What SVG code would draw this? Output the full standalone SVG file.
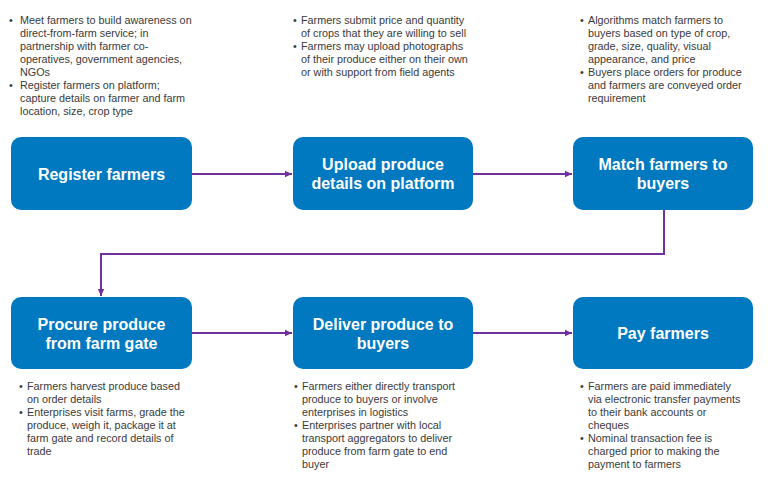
<svg xmlns="http://www.w3.org/2000/svg" width="778" height="489" viewBox="0 0 778 489">
<style>
.box{fill:#0079C1;}
.lbl{font-family:"Liberation Sans",Arial,sans-serif;font-weight:bold;font-size:16px;fill:#ffffff;text-anchor:middle;}
.note{font-family:"Liberation Sans",Arial,sans-serif;font-size:10.8px;fill:#3a3a3a;}
.con{fill:none;stroke:#7030A0;stroke-width:2;}
</style>
<defs>
<marker id="ah" markerUnits="userSpaceOnUse" markerWidth="8" markerHeight="8" refX="7" refY="4" orient="auto">
<path d="M0,0.8 L7,4 L0,7.2 Z" fill="#7030A0"/>
</marker>
</defs>
<rect width="778" height="489" fill="#ffffff"/>

<g id="connectors">
<line class="con" x1="192" y1="174" x2="292" y2="174" marker-end="url(#ah)"/>
<line class="con" x1="473" y1="174" x2="572" y2="174" marker-end="url(#ah)"/>
<polyline class="con" points="664,210 664,254 101,254 101,296" marker-end="url(#ah)"/>
<line class="con" x1="192" y1="333" x2="292" y2="333" marker-end="url(#ah)"/>
<line class="con" x1="473" y1="333" x2="572" y2="333" marker-end="url(#ah)"/>
</g>

<g id="register-farmers">
<rect class="box" x="11" y="137" width="181" height="73" rx="10"/>
<text class="lbl" x="101.5" y="180">Register farmers</text>
</g>
<g id="upload-produce">
<rect class="box" x="293" y="137" width="180" height="73" rx="10"/>
<text class="lbl" x="383" y="170">Upload produce</text>
<text class="lbl" x="383" y="189">details on platform</text>
</g>
<g id="match-farmers">
<rect class="box" x="573" y="137" width="180" height="73" rx="10"/>
<text class="lbl" x="663" y="170">Match farmers to</text>
<text class="lbl" x="663" y="189">buyers</text>
</g>
<g id="procure-produce">
<rect class="box" x="11" y="297" width="181" height="72" rx="10"/>
<text class="lbl" x="101.5" y="330">Procure produce</text>
<text class="lbl" x="101.5" y="349">from farm gate</text>
</g>
<g id="deliver-produce">
<rect class="box" x="293" y="297" width="180" height="72" rx="10"/>
<text class="lbl" x="383" y="330">Deliver produce to</text>
<text class="lbl" x="383" y="349">buyers</text>
</g>
<g id="pay-farmers">
<rect class="box" x="573" y="297" width="180" height="72" rx="10"/>
<text class="lbl" x="663" y="339">Pay farmers</text>
</g>

<g id="notes-register">
<text class="note" x="9" y="24">•</text>
<text class="note" x="20" y="24">Meet farmers to build awareness on</text>
<text class="note" x="20" y="37">direct-from-farm service; in</text>
<text class="note" x="20" y="50">partnership with farmer co-</text>
<text class="note" x="20" y="63">operatives, government agencies,</text>
<text class="note" x="20" y="76">NGOs</text>
<text class="note" x="9" y="89">•</text>
<text class="note" x="20" y="89">Register farmers on platform;</text>
<text class="note" x="20" y="102">capture details on farmer and farm</text>
<text class="note" x="20" y="115">location, size, crop type</text>
</g>
<g id="notes-upload">
<text class="note" x="293" y="24">•</text>
<text class="note" x="301" y="24">Farmers submit price and quantity</text>
<text class="note" x="301" y="37">of crops that they are willing to sell</text>
<text class="note" x="293" y="50">•</text>
<text class="note" x="301" y="50">Farmers may upload photographs</text>
<text class="note" x="301" y="63">of their produce either on their own</text>
<text class="note" x="301" y="76">or with support from field agents</text>
</g>
<g id="notes-match">
<text class="note" x="580" y="24">•</text>
<text class="note" x="588" y="24">Algorithms match farmers to</text>
<text class="note" x="588" y="37">buyers based on type of crop,</text>
<text class="note" x="588" y="50">grade, size, quality, visual</text>
<text class="note" x="588" y="63">appearance, and price</text>
<text class="note" x="580" y="76">•</text>
<text class="note" x="588" y="76">Buyers place orders for produce</text>
<text class="note" x="588" y="89">and farmers are conveyed order</text>
<text class="note" x="588" y="102">requirement</text>
</g>
<g id="notes-procure">
<text class="note" x="19" y="389.5">•</text>
<text class="note" x="27" y="389.5">Farmers harvest produce based</text>
<text class="note" x="27" y="402.5">on order details</text>
<text class="note" x="19" y="415.5">•</text>
<text class="note" x="27" y="415.5">Enterprises visit farms, grade the</text>
<text class="note" x="27" y="428.5">produce, weigh it, package it at</text>
<text class="note" x="27" y="441.5">farm gate and record details of</text>
<text class="note" x="27" y="454.5">trade</text>
</g>
<g id="notes-deliver">
<text class="note" x="294" y="389.5">•</text>
<text class="note" x="302" y="389.5">Farmers either directly transport</text>
<text class="note" x="302" y="402.5">produce to buyers or involve</text>
<text class="note" x="302" y="415.5">enterprises in logistics</text>
<text class="note" x="294" y="428.5">•</text>
<text class="note" x="302" y="428.5">Enterprises partner with local</text>
<text class="note" x="302" y="441.5">transport aggregators to deliver</text>
<text class="note" x="302" y="454.5">produce from farm gate to end</text>
<text class="note" x="302" y="467.5">buyer</text>
</g>
<g id="notes-pay">
<text class="note" x="580" y="389.5">•</text>
<text class="note" x="588" y="389.5">Farmers are paid immediately</text>
<text class="note" x="588" y="402.5">via electronic transfer payments</text>
<text class="note" x="588" y="415.5">to their bank accounts or</text>
<text class="note" x="588" y="428.5">cheques</text>
<text class="note" x="580" y="441.5">•</text>
<text class="note" x="588" y="441.5">Nominal transaction fee is</text>
<text class="note" x="588" y="454.5">charged prior to making the</text>
<text class="note" x="588" y="467.5">payment to farmers</text>
</g>
</svg>
